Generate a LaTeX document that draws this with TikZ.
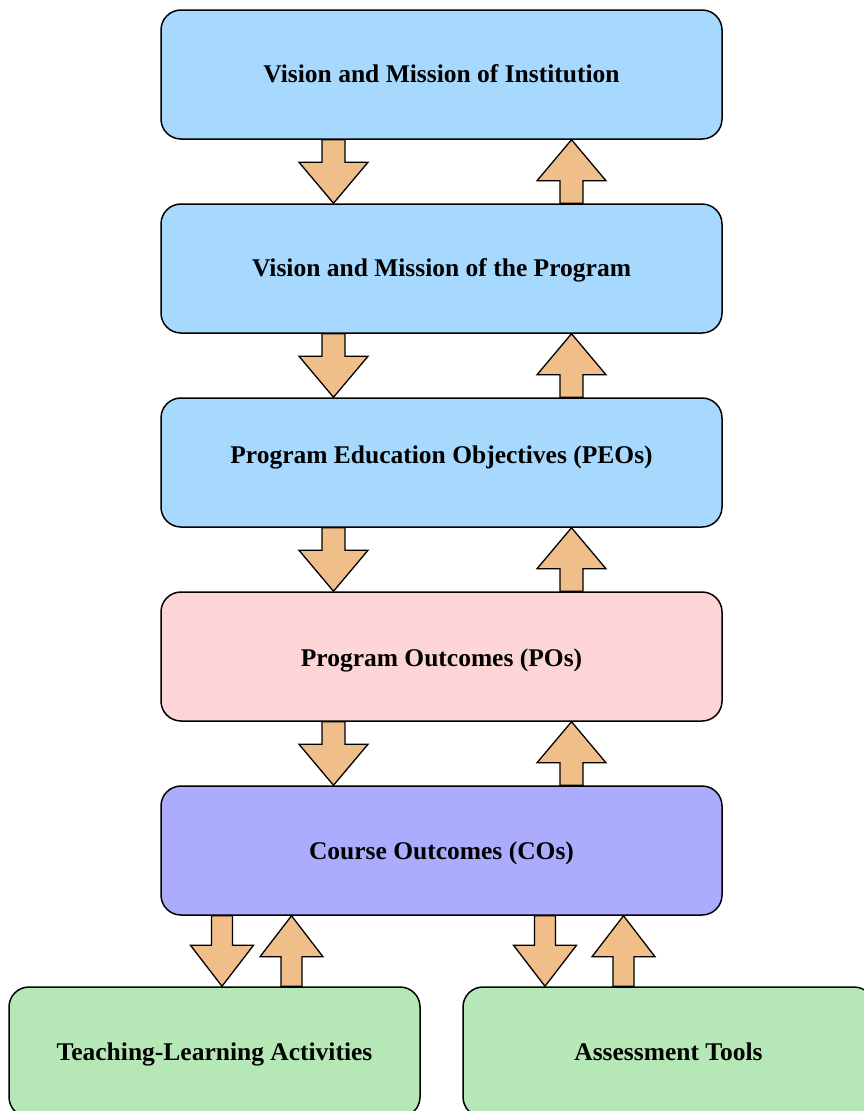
\documentclass[tikz,border=0pt]{standalone}
\usepackage{fontspec}
\setmainfont{Liberation Serif}
\usetikzlibrary{calc}
\definecolor{boxblue}{RGB}{167,217,255}
\definecolor{boxpink}{RGB}{254,213,215}
\definecolor{boxpurple}{RGB}{172,172,255}
\definecolor{boxgreen}{RGB}{182,232,183}
\definecolor{arrfill}{RGB}{240,190,137}
\tikzset{
  box/.style={draw=black, line width=1.5pt, rounded corners=20pt, minimum width=561pt, minimum height=129pt, inner sep=0pt, font=\fontsize{25.5}{30}\selectfont\bfseries, text=black, text height=16.8pt, text depth=0pt},
  lowbox/.style={box, minimum width=411pt, minimum height=130pt},
  blockarr/.style={draw=black, line width=1.3pt, fill=arrfill, line join=miter}
}
% #1 tail point, #2 tip point, #3 shaft half width, #4 head half width
\newcommand\myBlockArrow[4]{%
  \draw[blockarr] let \p1=(#1), \p2=(#2), \n1={ifthenelse(\y2<\y1,41,-41)} in
    (\x1-#3pt,\y1) -- (\x1-#3pt,\y2+\n1) -- (\x2-#4pt,\y2+\n1) -- (\x2,\y2)
    -- (\x2+#4pt,\y2+\n1) -- (\x1+#3pt,\y2+\n1) -- (\x1+#3pt,\y1) -- cycle;}
\begin{document}
\begin{tikzpicture}[x=1pt,y=-1pt]
\useasboundingbox (0,0) rectangle (864,1111);
\clip (0,0) rectangle (864,1111);
\node[box, fill=boxblue] (v1) at (441.5,74.5) {Vision and Mission of Institution};
\node[box, fill=boxblue] (v2) at (441.5,268.5) {Vision and Mission of the Program};
\node[box, fill=boxblue, text depth=14pt] (peo) at (441.5,462.5) {Program Education Objectives (PEOs)};
\node[box, fill=boxpink, text height=19.8pt] (po) at (441.5,656.5) {Program Outcomes (POs)};
\node[box, fill=boxpurple, text height=18.8pt] (co) at (441.5,850.5) {Course Outcomes (COs)};
\node[lowbox, fill=boxgreen] (tl) at (214.5,1052) {Teaching-Learning Activities};
\node[lowbox, fill=boxgreen] (at) at (668.5,1052) {Assessment Tools};
\coordinate (dl) at (333.5,0);
\coordinate (ul) at (571.5,0);
\myBlockArrow{v1.south -| dl}{v2.north -| dl}{11.5}{34.5}
\myBlockArrow{v2.north -| ul}{v1.south -| ul}{11.5}{34.5}
\myBlockArrow{v2.south -| dl}{peo.north -| dl}{11.5}{34.5}
\myBlockArrow{peo.north -| ul}{v2.south -| ul}{11.5}{34.5}
\myBlockArrow{peo.south -| dl}{po.north -| dl}{11.5}{34.5}
\myBlockArrow{po.north -| ul}{peo.south -| ul}{11.5}{34.5}
\myBlockArrow{po.south -| dl}{co.north -| dl}{11.5}{34.5}
\myBlockArrow{co.north -| ul}{po.south -| ul}{11.5}{34.5}
\coordinate (a1) at (222,0);
\coordinate (a2) at (291.5,0);
\coordinate (a3) at (545,0);
\coordinate (a4) at (623.5,0);
\myBlockArrow{co.south -| a1}{tl.north -| a1}{10.5}{31.5}
\myBlockArrow{tl.north -| a2}{co.south -| a2}{10.5}{31.5}
\myBlockArrow{co.south -| a3}{at.north -| a3}{10.5}{31.5}
\myBlockArrow{at.north -| a4}{co.south -| a4}{10.5}{31.5}
\end{tikzpicture}
\end{document}
